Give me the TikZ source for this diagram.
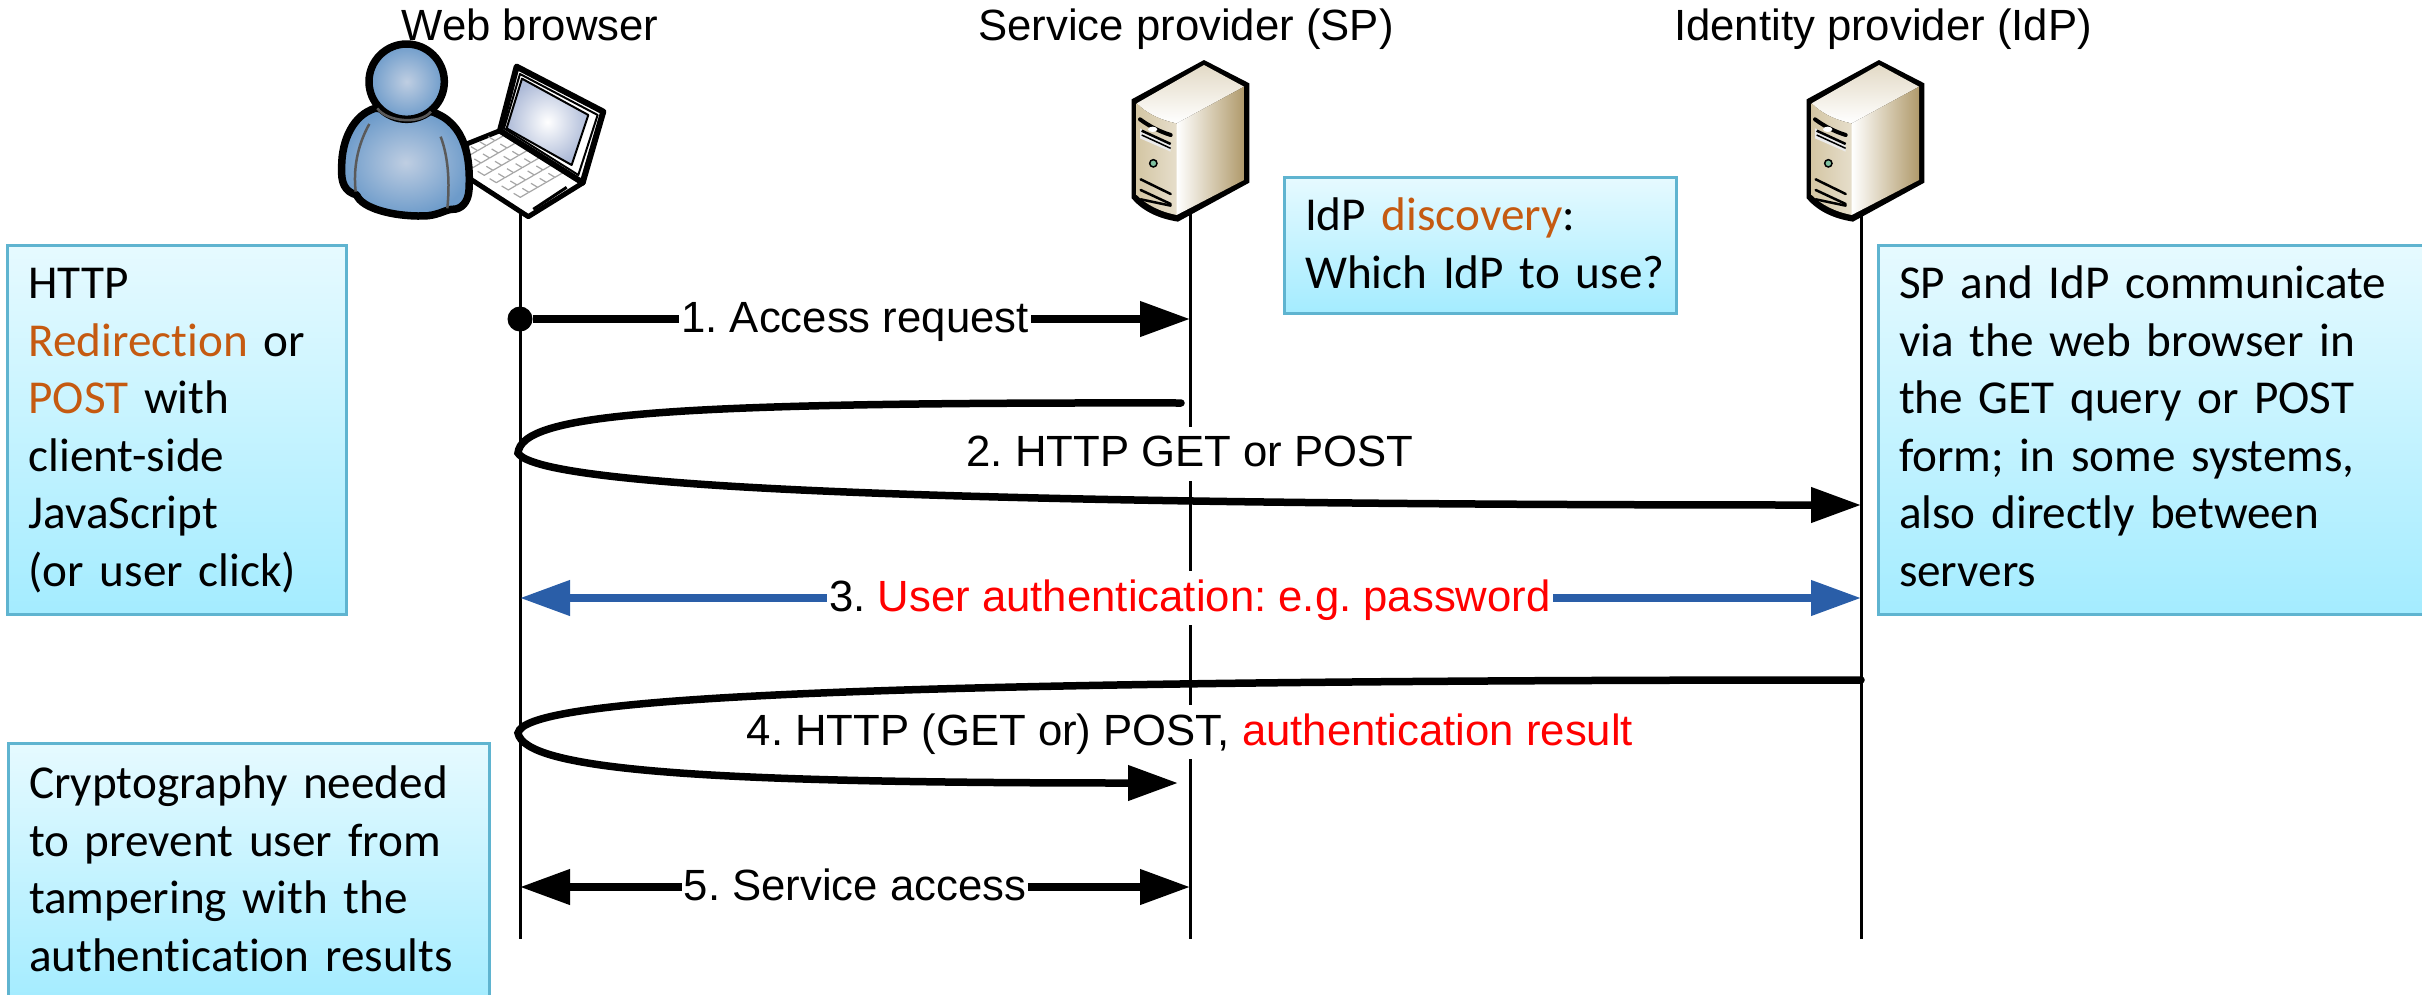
\documentclass[tikz,border=0pt]{standalone}
\usepackage{fontspec}
\setmainfont{Liberation Sans}
\newfontfamily\notefont[Ligatures=NoCommon,WordSpace=0.5]{Carlito}
\usetikzlibrary{arrows.meta,calc}
\definecolor{tipblue}{HTML}{2A5EA8}
\definecolor{noteedge}{HTML}{5FB4D0}
\definecolor{notetop}{HTML}{E6FAFF}
\definecolor{notebot}{HTML}{A4ECFF}
\definecolor{hl}{HTML}{C55A11}
\definecolor{srvdark}{HTML}{B09A6C}
\definecolor{srvmid}{HTML}{D8CDB4}
\definecolor{srvfront}{HTML}{D4C6A4}
\definecolor{srvfront2}{HTML}{E6DECB}
\definecolor{srvtop}{HTML}{E3DAC6}
\definecolor{srvgreen}{HTML}{7FC0A0}
\definecolor{personin}{HTML}{BFCEE2}
\definecolor{personout}{HTML}{6D9BCA}
\definecolor{personline}{HTML}{5A5A5A}
\definecolor{screenedge}{HTML}{AEBBD8}
\frenchspacing
\newcommand{\notelines}[2][0pt]{\vbox{\kern#1\hbox{\begin{tabular}{@{}l@{}}#2\end{tabular}}}}
\tikzset{
  lifeline/.style={line width=3pt,black},
  msg/.style={line width=7.5pt,black,line cap=round},
  tipend/.style={-{Triangle[length=50pt,width=34pt]}},
  tipboth/.style={{Triangle[length=50pt,width=34pt]}-{Triangle[length=50pt,width=34pt]},line cap=butt},
  title/.style={font=\fontsize{43.7}{50}\selectfont,inner sep=0pt,anchor=base},
  msglabel/.style={font=\fontsize{43.7}{50}\selectfont,fill=white,inner xsep=2pt,inner ysep=0pt,minimum height=54pt,text height=33pt,text depth=7pt},
  note/.style={draw=noteedge,line width=3pt,top color=notetop,bottom color=notebot,anchor=north west,align=left,inner xsep=21pt,inner ysep=0pt,
    font=\notefont\fontsize{47.2}{57.6}\selectfont},
}
\newcommand{\serverglyph}[1]{%
\begin{scope}[shift={(#1,40)},x=0.3333pt,y=-0.3333pt]
  \fill[black,line join=round] (312,60) -- (448,130) -- (448,428) -- (234,545) .. controls (170,535) and (125,510) .. (95,475) -- (95,178) -- cycle;
  \shade[top color=srvtop,bottom color=white] (312,75) -- (432,140) -- (230,250) .. controls (180,240) and (140,220) .. (110,190) -- cycle;
  \shade[left color=white,right color=srvdark,middle color=srvmid] (230,250) -- (432,140) -- (432,420) -- (230,525) -- cycle;
  \shade[left color=srvfront,right color=srvfront2] (110,190) .. controls (140,220) and (180,240) .. (230,250) -- (230,525) .. controls (180,515) and (140,495) .. (110,465) -- cycle;
  \draw[line width=4pt,line cap=round] (120,238) .. controls (150,260) and (180,275) .. (212,285);
  \fill[white!92!black] (120,265) -- (212,312) -- (212,335) -- (120,295) -- cycle;
  \draw[line width=2.5pt] (125,272) -- (212,312);
  \draw[line width=1.5pt] (125,285) -- (212,325);
  \fill[white] (158,268) ellipse (14 and 8);
  \filldraw[fill=srvgreen,draw=black,line width=1.5pt] (160,370) circle (11);
  \draw[line width=2.5pt,line cap=round] (122,418) -- (212,462);
  \draw[line width=2.5pt,line cap=round] (122,450) -- (212,492);
  \draw[line width=2.5pt,line cap=round] (122,478) -- (212,497);
\end{scope}}
\begin{document}
\begin{tikzpicture}[x=1pt,y=-1pt]
\useasboundingbox (0,0) rectangle (2422,994);
\clip (0,0) rectangle (2422,994);
% lifeline anchors
\coordinate (bt) at (520,210); \coordinate (bb) at (520,939);
\coordinate (st) at (1190,210); \coordinate (sb) at (1190,939);
\coordinate (it) at (1861,210); \coordinate (ib) at (1861,939);
\draw[lifeline] (bt) -- (bb);
\draw[lifeline] (st) -- (sb);
\draw[lifeline] (it) -- (ib);

% laptop
\begin{scope}[shift={(320,0)},x=0.3333pt,y=-0.3333pt,line join=round]
  \filldraw[fill=white,draw=black,line width=5pt] (440,432) -- (540,392) -- (790,548) -- (625,650) -- (440,530) -- cycle;
  \foreach \i in {0,...,5}{\foreach \j in {0,...,4}{
    \draw[black!35,line width=1.2pt] ({505+36*\i-26*\j},{410+22*\i+15*\j}) -- ++(20,12) -- ++(24,-14);
  }}
  \draw[line width=3pt,black] (640,628) -- (740,562);
  \filldraw[fill=white,draw=black,line width=6pt] (590,200) -- (850,335) -- (788,548) -- (540,392) -- cycle;
  \draw[black,line width=2pt] (600,222) -- (833,345) -- (775,525) -- (552,385) -- cycle;
  \shadedraw[draw=black,line width=2pt,inner color=white,outer color=screenedge] (606,236) -- (805,345) -- (755,495) -- (560,385) -- cycle;
  % person
  \shadedraw[draw=black,line width=7.5pt,inner color=personin,outer color=personout] (165,325) .. controls (100,345) and (65,420) .. (65,500) .. controls (62,550) and (75,575) .. (110,585) .. controls (125,625) and (220,650) .. (310,648) .. controls (350,648) and (375,630) .. (395,628) .. controls (425,630) and (445,605) .. (447,570) .. controls (452,480) and (440,370) .. (335,335) -- cycle;
  \shadedraw[draw=black,line width=7.5pt,inner color=personin,outer color=personout] (260,245) circle (113);
  \draw[personline,line width=2.5pt] (172,325) .. controls (200,365) and (300,375) .. (333,335);
  \draw[personline,line width=2.5pt] (148,372) .. controls (110,440) and (100,510) .. (107,575);
  \draw[personline,line width=2.5pt] (362,410) .. controls (385,470) and (390,550) .. (382,625);
\end{scope}

\serverglyph{1100}
\serverglyph{1775}

% titles
\node[title] (tb) at (530,40) {Web browser};
\node[title] (ts) at (1186,40) {Service provider (SP)};
\node[title] (ti) at (1883,40) {Identity provider (IdP)};

% notes
\node[note,minimum width=339pt,minimum height=369pt,text width=297pt] (n1) at (6,243.5) {\notelines[3pt]{HTTP\\{\color{hl}Redirection} or\\{\color{hl}POST} with\\client-side\\JavaScript\\(or user click)}};
\node[note,minimum width=392pt,minimum height=136pt,text width=350pt] (n2) at (1282.5,175.5) {\notelines[6pt]{IdP {\color{hl}discovery}:\\Which IdP to use?}};
\node[note,minimum width=560pt,minimum height=369pt,text width=518pt] (n3) at (1876.5,243.5) {\notelines[3pt]{SP and IdP communicate\\via the web browser in\\the GET query or POST\\form; in some systems,\\also directly between\\servers}};
\node[note,minimum width=481pt,minimum height=258pt,text width=439pt] (n4) at (6.5,741.5) {\notelines[3pt]{Cryptography needed\\to prevent user from\\tampering with the\\authentication results}};

% anchors for messages
\node[circle,fill=black,inner sep=0pt,minimum size=25pt] (m1a) at (520,319) {};
\coordinate (m1b) at (1190,319);
\coordinate (m2a) at (1181,403); \coordinate (m2l) at (518,453); \coordinate (m2b) at (1861,505);
\coordinate (m3a) at (520,598); \coordinate (m3b) at (1861,598);
\coordinate (m4a) at (1861,680); \coordinate (m4l) at (518,733); \coordinate (m4b) at (1178,783);
\coordinate (m5a) at (520,887); \coordinate (m5b) at (1190,887);

\draw[msg,tipend,line cap=butt] (m1a) -- (m1b);
\draw[msg,tipend] (m2a) .. controls (660,402) and (522,414) .. (m2l) .. controls (540,490) and (1000,505) .. (m2b);
\draw[msg,tipboth,color=tipblue] (m3a) -- (m3b);
\draw[msg,tipend] (m4a) .. controls (800,680) and (525,700) .. (m4l) .. controls (525,770) and (700,783) .. (m4b);
\draw[msg,tipboth] (m5a) -- (m5b);

\node[msglabel] (l1) at (855,319) {1. Access request};
\node[msglabel] (l2) at (1190,453.5) {2. HTTP GET or POST};
\node[msglabel] (l3) at (1190,598) {3. {\color{red}User authentication: e.g. password}};
\node[msglabel] (l4) at (1190,732) {4. HTTP (GET or) POST, {\color{red}authentication result}};
\node[msglabel] (l5) at (855,887) {5. Service access};
\end{tikzpicture}
\end{document}
